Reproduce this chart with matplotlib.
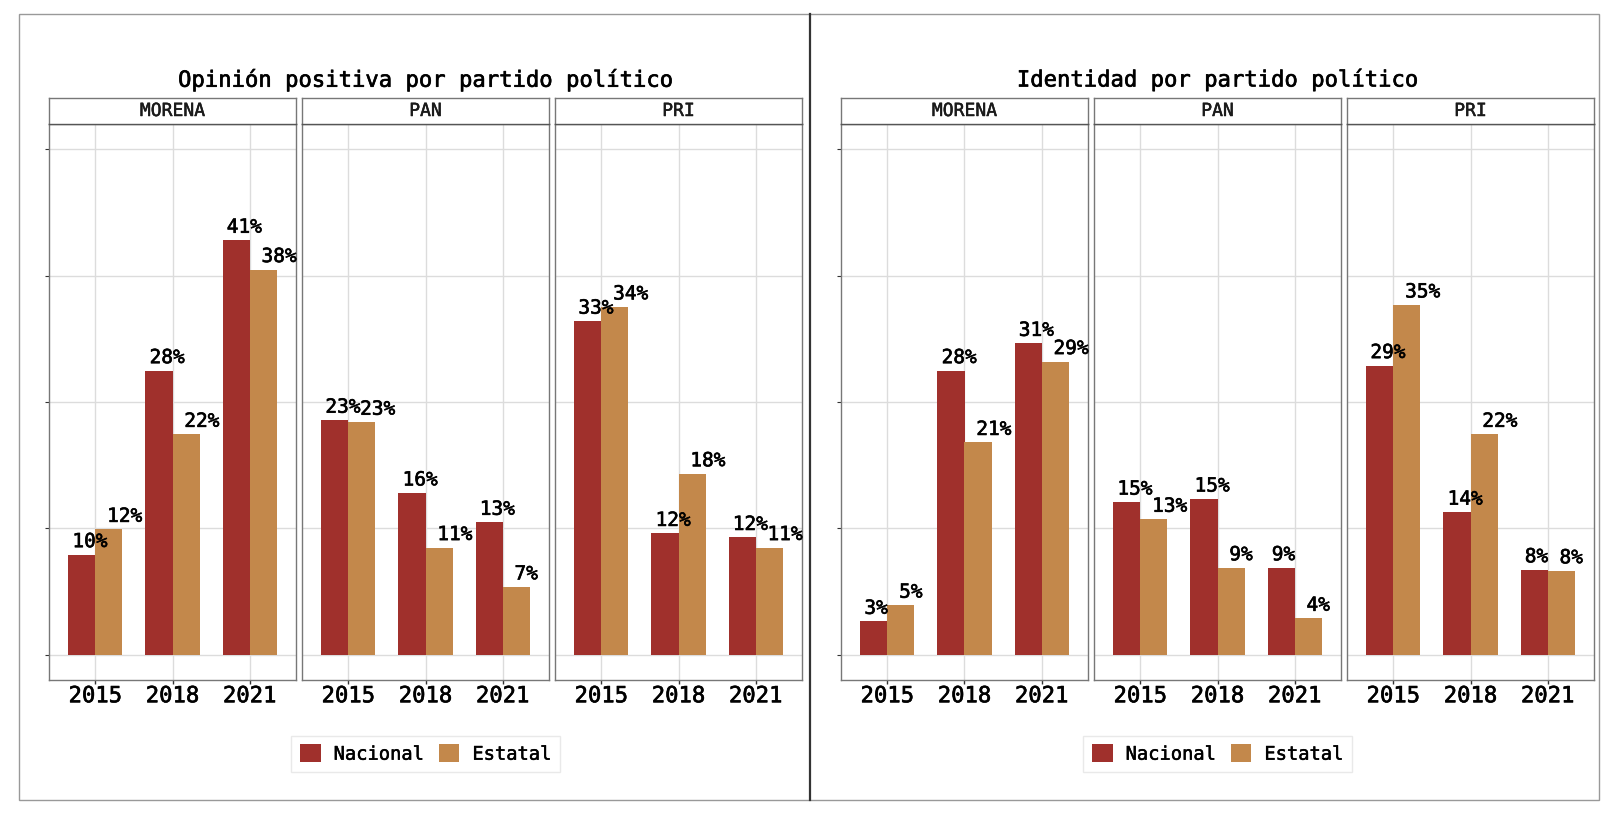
import matplotlib
matplotlib.use('Agg')
import matplotlib.pyplot as plt
import matplotlib.patheffects as pe
from matplotlib.patches import Rectangle, Patch
from matplotlib.lines import Line2D

# ---------------- data ----------------
years = ['2015', '2018', '2021']
partidos = ['MORENA', 'PAN', 'PRI']
series = ['Nacional', 'Estatal']
titles = ['Opinión positiva por partido político', 'Identidad por partido político']

opinion_nacional_morena = [9.9, 28.1, 41.0]
opinion_estatal_morena = [12.4, 21.8, 38.1]
opinion_nacional_pan = [23.2, 16.0, 13.1]
opinion_estatal_pan = [23.0, 10.6, 6.7]
opinion_nacional_pri = [33.0, 12.0, 11.6]
opinion_estatal_pri = [34.4, 17.9, 10.6]

identidad_nacional_morena = [3.3, 28.1, 30.8]
identidad_estatal_morena = [4.9, 21.0, 29.0]
identidad_nacional_pan = [15.1, 15.4, 8.6]
identidad_estatal_pan = [13.4, 8.6, 3.6]
identidad_nacional_pri = [28.6, 14.1, 8.4]
identidad_estatal_pri = [34.6, 21.8, 8.3]

y_breaks = [0, 12.5, 25, 37.5, 50]

colors = {'Nacional': '#A0302C', 'Estatal': '#C3884B'}

panels = [
    {'MORENA': (opinion_nacional_morena, opinion_estatal_morena),
     'PAN': (opinion_nacional_pan, opinion_estatal_pan),
     'PRI': (opinion_nacional_pri, opinion_estatal_pri)},
    {'MORENA': (identidad_nacional_morena, identidad_estatal_morena),
     'PAN': (identidad_nacional_pan, identidad_estatal_pan),
     'PRI': (identidad_nacional_pri, identidad_estatal_pri)},
]

# ---------------- layout ----------------
W, H = 1618, 820
plt.rcParams['font.family'] = ['DejaVu Sans Mono', 'DejaVu Sans']
fig = plt.figure(figsize=(W / 100, H / 100), dpi=100)
fig.patch.set_facecolor('white')

def fx(px):
    return px / W

def fy(py):
    return 1 - py / H

group_x0 = [49, 841]
facet_w = 247
facet_gap = 6
panel_top, panel_bot = 125, 681
strip_top = 99

FONT = 'DejaVu Sans Mono'
bar_w = 0.35
heavy = [pe.withStroke(linewidth=0.45, foreground='black')]

for g, data in enumerate(panels):
    x0g = group_x0[g]
    for i, p in enumerate(partidos):
        x0 = x0g + i * (facet_w + facet_gap)
        ax = fig.add_axes([fx(x0), fy(panel_bot), facet_w / W, (panel_bot - panel_top) / H])
        nac, est = data[p]
        xs = list(range(len(years)))
        ax.bar([x - bar_w / 2 for x in xs], nac, width=bar_w, color=colors['Nacional'], zorder=3)
        ax.bar([x + bar_w / 2 for x in xs], est, width=bar_w, color=colors['Estatal'], zorder=3)
        for x, v in zip(xs, nac):
            ax.annotate(f'{round(v)}%', xy=(x - 0.225, v), xytext=(-4, 5.4),
                        textcoords='offset points', ha='left', va='baseline',
                        fontsize=14, family=FONT, color='black', zorder=4,
                        annotation_clip=False, path_effects=heavy)
        for x, v in zip(xs, est):
            ax.annotate(f'{round(v)}%', xy=(x + 0.225, v), xytext=(-4, 5.4),
                        textcoords='offset points', ha='left', va='baseline',
                        fontsize=14, family=FONT, color='black', zorder=4,
                        annotation_clip=False, path_effects=heavy)
        ax.set_xlim(-0.6, 2.6)
        ax.set_ylim(-2.5, 52.5)
        ax.set_xticks(xs)
        ax.set_xticklabels(years, fontsize=16, family=FONT, color='black')
        for t in ax.get_xticklabels():
            t.set_path_effects(heavy)
        ax.set_yticks(y_breaks)
        ax.set_yticklabels([])
        ax.grid(True, color='#DCDCDC', linewidth=1, zorder=0)
        ax.set_axisbelow(True)
        ax.tick_params(axis='x', length=3, width=1, color='#333333', pad=1.5)
        if i == 0:
            ax.tick_params(axis='y', length=3, width=0.8, color='#333333')
        else:
            ax.tick_params(axis='y', length=0)
        for s in ax.spines.values():
            s.set_color('#777777')
            s.set_linewidth(1)
        # strip
        sax = fig.add_axes([fx(x0), fy(panel_top), facet_w / W, (panel_top - strip_top) / H])
        sax.set_xticks([])
        sax.set_yticks([])
        sax.set_facecolor('white')
        for s in sax.spines.values():
            s.set_color('#777777')
            s.set_linewidth(1)
        sax.spines['bottom'].set_color('#555555')
        sax.text(0.5, 0.5, p, ha='center', va='center', fontsize=13, family=FONT,
                 color='#1a1a1a', transform=sax.transAxes,
                 path_effects=[pe.withStroke(linewidth=0.35, foreground='#1a1a1a')])
    # title
    xc = x0g + (3 * facet_w + 2 * facet_gap) / 2
    fig.text(fx(xc), fy(81), titles[g], ha='center', va='center', fontsize=16,
             family=FONT, color='black', path_effects=heavy)
    # legend
    handles = [Patch(facecolor=colors[s], edgecolor='none', label=s) for s in series]
    leg = fig.legend(handles=handles, loc='center', bbox_to_anchor=(fx(xc), fy(755)),
                     ncol=2, frameon=True, fancybox=False,
                     prop={'family': FONT, 'size': 13.5},
                     handlelength=1.1, handleheight=1.1, handletextpad=0.7,
                     columnspacing=0.8, borderpad=0.45, borderaxespad=0)
    leg.get_frame().set_edgecolor('#E4E4E4')
    leg.get_frame().set_linewidth(1)
    for t in leg.get_texts():
        t.set_path_effects([pe.withStroke(linewidth=0.35, foreground='black')])

# outer border and divider
fig.add_artist(Rectangle((fx(19), fy(801)), (1599 - 19) / W, (801 - 15) / H,
                         transform=fig.transFigure, fill=False, edgecolor='#999999', linewidth=1))
fig.add_artist(Line2D([fx(810), fx(810)], [fy(15), fy(801)], transform=fig.transFigure,
                      color='#333333', linewidth=1.6))

fig.savefig('out.png', dpi=100, facecolor='white')
